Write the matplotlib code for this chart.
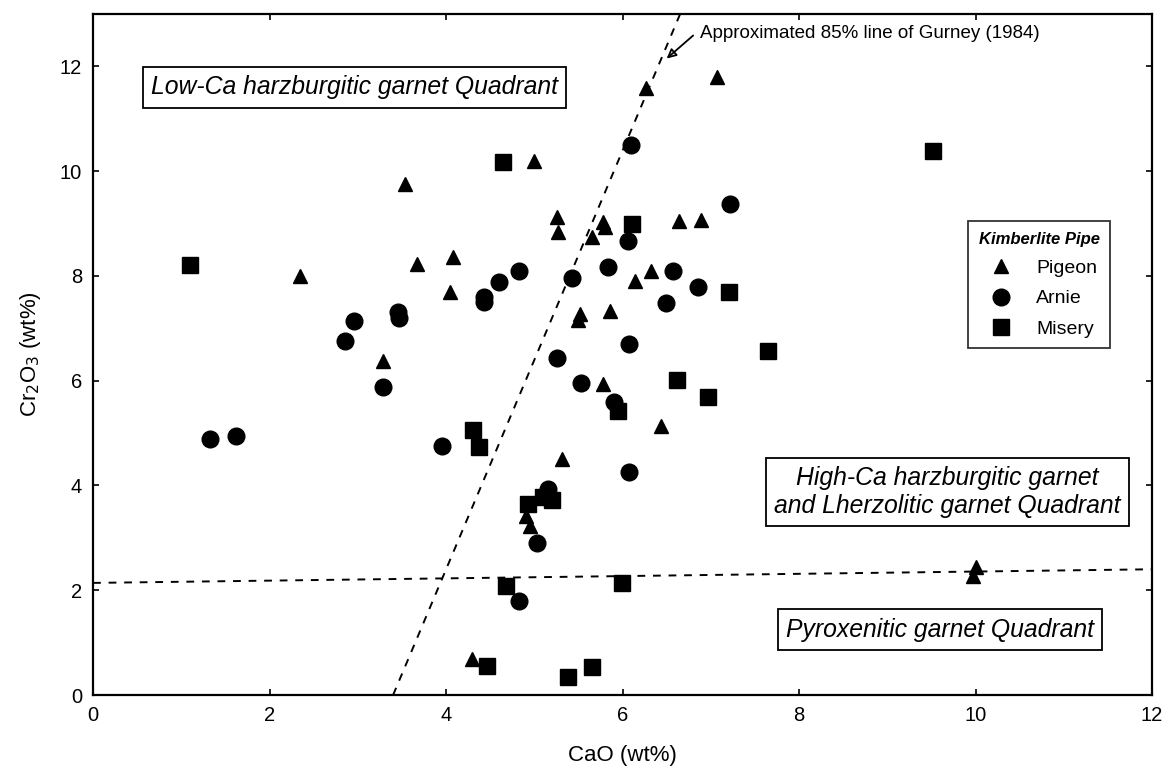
import matplotlib

matplotlib.use("Agg")

import matplotlib.pyplot as plt

plt.rcParams["font.family"] = ["Liberation Sans", "DejaVu Sans"]

# CaO / Cr2O3 (wt%) per kimberlite pipe
pigeon_cao = [2.35, 3.29, 3.53, 3.67, 4.05, 4.08, 4.29, 4.91, 4.95, 5.0, 5.26, 5.27, 5.31,
              5.5, 5.52, 5.65, 5.78, 5.8, 5.78, 5.86, 6.14, 6.27, 6.32, 6.44, 6.64, 6.89,
              7.07, 9.97, 10.0]
pigeon_cr2o3 = [8.0, 6.37, 9.76, 8.23, 7.69, 8.36, 0.68, 3.41, 3.22, 10.2, 9.13, 8.84, 4.5,
                7.15, 7.27, 8.75, 9.03, 8.94, 5.93, 7.33, 7.91, 11.58, 8.1, 5.13, 9.05, 9.07,
                11.8, 2.27, 2.45]

arnie_cao = [1.33, 1.62, 2.86, 2.96, 3.29, 3.45, 3.47, 3.95, 4.43, 4.43, 4.6, 4.83, 4.83,
             5.03, 5.16, 5.26, 5.43, 5.53, 5.84, 5.9, 6.06, 6.07, 6.07, 6.1, 6.49, 6.57,
             6.86, 7.22]
arnie_cr2o3 = [4.88, 4.94, 6.76, 7.14, 5.88, 7.32, 7.2, 4.75, 7.6, 7.5, 7.89, 8.1, 1.79,
               2.91, 3.94, 6.43, 7.96, 5.95, 8.17, 5.59, 8.67, 6.7, 4.25, 10.49, 7.48, 8.1,
               7.79, 9.38]

misery_cao = [1.1, 4.3, 4.37, 4.46, 4.65, 4.68, 4.93, 5.1, 5.2, 5.38, 5.65, 5.95, 5.99,
              6.11, 6.62, 6.97, 7.21, 7.65, 9.52]
misery_cr2o3 = [8.2, 5.05, 4.73, 0.56, 10.18, 2.09, 3.64, 3.78, 3.72, 0.35, 0.53, 5.42, 2.14,
                9.0, 6.01, 5.68, 7.69, 6.56, 10.39]

# boundary lines
gurney_x = [3.4, 6.67]
gurney_y = [0.0, 13.07]
pyrox_x = [0.0, 12.0]
pyrox_y = [2.14, 2.4]

fig = plt.figure(figsize=(11.69, 7.7), dpi=100)
ax = fig.add_axes([0.0796, 0.0974, 0.9059, 0.8844])

ax.plot(gurney_x, gurney_y, color="black", linestyle=(0, (4, 4)), linewidth=1.4)
ax.plot(pyrox_x, pyrox_y, color="black", linestyle=(0, (4, 4)), linewidth=1.4)

ax.plot(pigeon_cao, pigeon_cr2o3, linestyle="none", marker="^", markersize=10.5,
        color="black", label="Pigeon")
ax.plot(arnie_cao, arnie_cr2o3, linestyle="none", marker="o", markersize=12,
        color="black", label="Arnie")
ax.plot(misery_cao, misery_cr2o3, linestyle="none", marker="s", markersize=11,
        color="black", label="Misery")

ax.set_xlim(0, 12)
ax.set_ylim(0, 13)
ax.set_xticks([0, 2, 4, 6, 8, 10, 12])
ax.set_yticks([0, 2, 4, 6, 8, 10, 12])
ax.tick_params(direction="in", top=True, right=True, length=4, width=1.2,
               labelsize=14.5, pad=8)
for spine in ax.spines.values():
    spine.set_linewidth(1.6)

ax.set_xlabel("CaO (wt%)", fontsize=16, labelpad=14)
ax.set_ylabel("Cr$_2$O$_3$ (wt%)", fontsize=16, labelpad=12)

box = dict(boxstyle="square,pad=0.33", facecolor="white", edgecolor="black", linewidth=1.3)
ax.text(2.96, 11.6, "Low-Ca harzburgitic garnet Quadrant", fontsize=17.8, style="italic",
        ha="center", va="center", bbox=box)
ax.text(9.68, 3.87, "High-Ca harzburgitic garnet\nand Lherzolitic garnet Quadrant",
        fontsize=17.8, style="italic", ha="center", va="center", linespacing=1.2, bbox=box)
ax.text(9.6, 1.25, "Pyroxenitic garnet Quadrant", fontsize=17.8, style="italic",
        ha="center", va="center", bbox=box)

ax.annotate("", xy=(6.5, 12.15), xytext=(6.8, 12.59),
            arrowprops=dict(arrowstyle="-|>", color="black", linewidth=1.3, shrinkA=0,
                            shrinkB=0, mutation_scale=14, fill=False))
ax.text(6.88, 12.63, "Approximated 85% line of Gurney (1984)", fontsize=13.5,
        ha="left", va="center")

leg = ax.legend(loc="upper left", bbox_to_anchor=(0.817, 0.71), fontsize=14,
                title="Kimberlite Pipe", frameon=True, fancybox=False, edgecolor="black",
                borderpad=0.55, handletextpad=0.8, labelspacing=0.65)
leg.get_title().set_fontsize(12)
leg.get_title().set_fontweight("bold")
leg.get_title().set_fontstyle("italic")
leg.get_frame().set_linewidth(1.3)

fig.savefig("out.png", dpi=100)
